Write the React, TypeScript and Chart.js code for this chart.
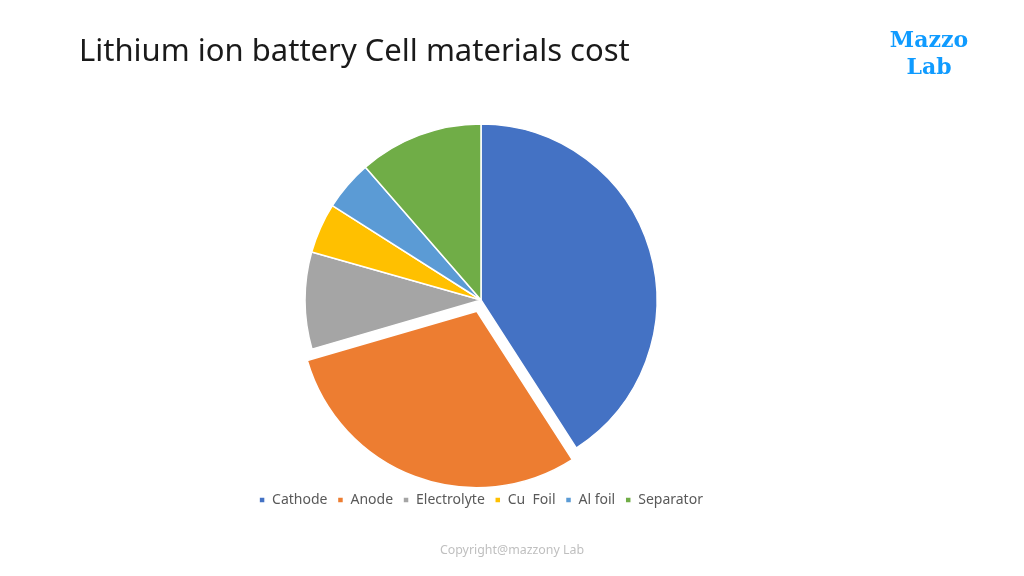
import { useEffect, useRef } from 'react';
import { Chart, registerables } from 'chart.js';

Chart.register(...registerables);

const materials = ['Cathode', 'Anode', 'Electrolyte', 'Cu  Foil', 'Al foil', 'Separator'];
const costShare = [40.9, 29.6, 8.9, 4.6, 4.6, 11.4];
const sliceColors = ['#4472C4', '#ED7D31', '#A5A5A5', '#FFC000', '#5B9BD5', '#70AD47'];
// chart.js moves an arc by offset / 4, so 48 gives the ~12px pull-out of the anode
const sliceOffsets = [0, 48, 0, 0, 0, 0];

const FONT = "'Noto Sans', 'Open Sans', sans-serif";

export default function App() {
  const canvasRef = useRef<HTMLCanvasElement | null>(null);
  const chartRef = useRef<Chart<'pie'> | null>(null);

  useEffect(() => {
    if (!canvasRef.current) return;
    if (chartRef.current) chartRef.current.destroy();

    const ctx = canvasRef.current.getContext('2d');
    if (!ctx) return;

    chartRef.current = new Chart(ctx, {
      type: 'pie',
      data: {
        labels: materials,
        datasets: [
          {
            data: costShare,
            backgroundColor: sliceColors,
            borderColor: '#ffffff',
            borderWidth: 1.5,
            offset: sliceOffsets,
          },
        ],
      },
      options: {
        animation: false,
        responsive: false,
        radius: 176,
        layout: { padding: { left: 0, right: 62, top: 117, bottom: 59 } },
        plugins: {
          legend: {
            position: 'bottom',
            labels: {
              boxWidth: 6,
              boxHeight: 6,
              padding: 10,
              color: '#595959',
              font: { family: FONT, size: 14 },
            },
          },
          tooltip: { enabled: false },
        },
      },
    });

    return () => {
      if (chartRef.current) {
        chartRef.current.destroy();
        chartRef.current = null;
      }
    };
  }, []);

  return (
    <div style={{ position: 'absolute', left: 0, top: 0, width: 1024, height: 576, background: '#fff', overflow: 'hidden' }}>
      <canvas ref={canvasRef} width={1024} height={576} style={{ position: 'absolute', left: 0, top: 0 }} />
      <div
        style={{
          position: 'absolute', left: 79, top: 29, fontFamily: FONT, fontSize: 31,
          color: '#1a1a1a', whiteSpace: 'nowrap', lineHeight: '40px',
        }}
      >
        Lithium ion battery Cell materials cost
      </div>
      <div
        style={{
          position: 'absolute', left: 869, top: 26, width: 120, textAlign: 'center',
          fontFamily: "'DejaVu Serif', serif", fontWeight: 'bold', fontSize: 22,
          lineHeight: '27px', color: '#0F9BFF',
        }}
      >
        Mazzo<br />Lab
      </div>
      <div
        style={{
          position: 'absolute', left: 0, width: 1024, top: 541, textAlign: 'center',
          fontFamily: FONT, fontSize: 12.4, color: '#BFBFBF', lineHeight: '18px',
        }}
      >
        Copyright@mazzony Lab
      </div>
    </div>
  );
}
